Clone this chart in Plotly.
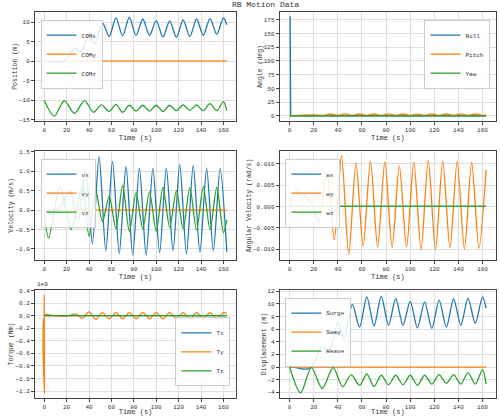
import plotly.graph_objects as go

# ---- data ----
t_comx = [0, 5, 10, 15, 20, 27, 33, 40, 45, 52, 58, 64, 70, 76, 82, 88, 94, 100, 106, 112, 118, 124, 130, 136, 142, 148, 154, 160, 163]
comx = [0, -0.1, -0.3, -0.3, 0.5, 3.3, 2.3, 7.1, 4.4, 9.9, 6.3, 11.1, 6.5, 11.2, 6.6, 10.8, 6.6, 10.4, 6.2, 10.3, 6.1, 10.6, 6.3, 10.8, 6.6, 10.9, 6.9, 11.1, 9.3]
t_comz = [0, 9, 18, 27, 36, 44, 51, 58, 64, 70, 76, 82, 88, 94, 100, 106, 112, 118, 124, 130, 136, 142, 148, 154, 160, 163]
comz = [-10, -14.1, -10.1, -13.4, -10.1, -13.1, -11.2, -12.9, -11.1, -13.1, -11.3, -12.8, -11.3, -12.8, -11.3, -12.9, -11.3, -12.7, -11.2, -12.6, -11.2, -12.7, -10.9, -12.7, -10.4, -12.7]
t_end = [0, 163]
zeros = [0, 0]

t_roll = [0, 0.4, 0.8, 163]
roll = [180, 180, 0, 0]
t_pitch = [0, 10, 20, 28, 34, 40, 46, 52, 58, 64, 70, 76, 82, 88, 94, 100, 106, 112, 118, 124, 130, 136, 142, 148, 154, 160, 163]
pitch = [0, 1.5, 2, 1, 3.5, 1, 3.6, 1, 3.5, 1, 3.5, 1, 3.6, 1, 3.5, 1, 3.4, 1, 3.5, 1, 3.5, 1, 3.6, 1, 3.5, 1, 2]

t_vx = [0, 8, 15, 23, 30, 37, 43, 49, 55, 61, 67, 73, 79, 85, 91, 97, 103, 109, 115, 121, 127, 133, 139, 145, 151, 157, 163]
vx = [0, -0.05, 0.1, 0.5, -0.32, 1.05, -0.87, 1.38, -1.05, 1.25, -1.12, 1.12, -1.15, 1.08, -1.17, 1.07, -1.1, 1.08, -1.05, 1.17, -1.13, 1.15, -1.08, 1.07, -1.05, 1.07, -1.08]
t_vz = [0, 4, 14, 24, 34, 40, 46, 52, 58, 64, 70, 76, 82, 88, 94, 100, 106, 112, 118, 124, 130, 136, 142, 148, 154, 160, 163]
vz = [-0.1, -0.72, 0.63, -0.5, 0.63, -0.68, 0.5, -0.3, 0.35, -0.48, 0.63, -0.55, 0.45, -0.48, 0.47, -0.55, 0.58, -0.45, 0.5, -0.48, 0.57, -0.52, 0.6, -0.5, 0.58, -0.58, -0.25]

t_wy = [0, 6, 12, 18, 24, 31, 37, 43, 49, 55, 61, 67, 73, 79, 85, 91, 97, 103, 109, 115, 121, 127, 133, 139, 145, 151, 157, 163]
wy = [-0.0003, 0.004, 0.0025, 0.0008, -0.0037, 0.0076, -0.0078, 0.0119, -0.0113, 0.0102, -0.0093, 0.0106, -0.0095, 0.0105, -0.0096, 0.0095, -0.0095, 0.0104, -0.0101, 0.0108, -0.0101, 0.0106, -0.0097, 0.0106, -0.0100, 0.0104, -0.0098, 0.0086]

t_ty = [0, 0.3, 0.6, 5, 20, 28, 34, 40, 46, 52, 58, 64, 70, 76, 82, 88, 94, 100, 106, 112, 118, 124, 130, 136, 142, 148, 154, 160, 163]
ty = [0.33, -1.23, 0.02, 0.01, -0.01, 0.03, -0.04, 0.06, -0.06, 0.05, -0.05, 0.05, -0.05, 0.05, -0.05, 0.05, -0.05, 0.05, -0.05, 0.05, -0.05, 0.05, -0.05, 0.05, -0.05, 0.05, -0.05, 0.05, 0.03]

heave = [v + 10 for v in comz]

BLUE, ORANGE, GREEN = '#1f77b4', '#ff7f0e', '#2ca02c'
FONT = 'Liberation Mono'

fig = go.Figure()

# plot region: l=35, r=4, t=12, b=18
cols = [(0.0, 0.436), (0.531, 1.0)]
rows = [(0.718, 1.0), (0.358, 0.640), (0.0, 0.280)]

panels = [
    (0, 0, 'Position (m)', [-15.3, 12.6], 5, 'tl',
     [('COMx', t_comx, comx, BLUE, 'spline'), ('COMy', t_end, zeros, ORANGE, 'linear'), ('COMz', t_comz, comz, GREEN, 'spline')]),
    (0, 1, 'Angle (deg)', [-9, 189], 25, 'tr',
     [('Roll', t_roll, roll, BLUE, 'linear'), ('Pitch', t_pitch, pitch, ORANGE, 'spline'), ('Yaw', t_end, zeros, GREEN, 'linear')]),
    (1, 0, 'Velocity (m/s)', [-1.28, 1.52], 0.5, 'tl',
     [('vx', t_vx, vx, BLUE, 'spline'), ('vy', t_end, zeros, ORANGE, 'linear'), ('vz', t_vz, vz, GREEN, 'spline')]),
    (1, 1, 'Angular Velocity (rad/s)', [-0.0125, 0.013], 0.005, 'tl',
     [('wx', t_end, zeros, BLUE, 'linear'), ('wy', t_wy, wy, ORANGE, 'spline'), ('wz', t_end, zeros, GREEN, 'linear')]),
    (2, 0, 'Torque (Nm)', [-1.31, 0.41], 0.2, 'br',
     [('Tx', t_end, zeros, BLUE, 'linear'), ('Ty', t_ty, ty, ORANGE, 'spline'), ('Tz', t_end, zeros, GREEN, 'linear')]),
    (2, 1, 'Displacement (m)', [-4.9, 12.2], 2, 'tl',
     [('Surge', t_comx, comx, BLUE, 'spline'), ('Sway', t_end, zeros, ORANGE, 'linear'), ('Heave', t_comz, heave, GREEN, 'spline')]),
]
tickfmt = ['', '', '.1f', '.3f', '.1f', '']

layout = {}
for i, (r, c, ytitle, yr, dt, lpos, series) in enumerate(panels):
    n = i + 1
    sfx = '' if n == 1 else str(n)
    leg = 'legend' + sfx
    for name, x, y, color, shape in series:
        fig.add_trace(go.Scatter(x=x, y=y, name=name, mode='lines',
                                 line=dict(color=color, width=1.3, shape=shape, smoothing=0.8),
                                 xaxis='x' + sfx, yaxis='y' + sfx, legend=leg))
    x0, x1 = cols[c]
    y0, y1 = rows[r]
    ax = dict(showline=True, mirror=True, linecolor='#444', linewidth=1, ticks='outside',
              ticklen=3, gridcolor='#dddddd', zeroline=False, tickfont=dict(size=6),
              automargin=False)
    layout['xaxis' + sfx] = dict(ax, domain=[x0, x1], anchor='y' + sfx, range=[-8.2, 171.2], dtick=20,
                                 title=dict(text='Time (s)', font=dict(size=7), standoff=0))
    layout['yaxis' + sfx] = dict(ax, domain=[y0, y1], anchor='x' + sfx, range=yr, dtick=dt,
                                 tickformat=tickfmt[i],
                                 title=dict(text=ytitle, font=dict(size=6.5), standoff=0))
    lx = x0 + 0.012 if lpos == 'tl' else x1 - 0.012
    ly = y1 - 0.02 if lpos in ('tl', 'tr') else y0 + 0.03
    layout[leg] = dict(x=lx, y=ly, xanchor='left' if lpos == 'tl' else 'right',
                       yanchor='top' if lpos != 'br' else 'bottom',
                       bgcolor='rgba(255,255,255,0.85)', bordercolor='#cccccc', borderwidth=1,
                       font=dict(size=6), tracegroupgap=0, itemwidth=30)

fig.update_layout(**layout)

fig.add_annotation(text='1e9', x=0.0, y=0.280, xref='paper', yref='paper',
                   xanchor='left', yanchor='bottom', showarrow=False, font=dict(size=6))

fig.update_layout(
    title=dict(text='RB Motion Data', x=0.5, xref='paper', y=0.997, yanchor='top', font=dict(size=8)),
    width=500, height=416, margin=dict(l=35, r=4, t=12, b=18),
    paper_bgcolor='white', plot_bgcolor='white',
    font=dict(family=FONT, color='#333'),
)

fig.write_html("out.html", config={'displayModeBar': False},
               post_script="document.body.style.margin='0';document.body.style.overflow='hidden';")
